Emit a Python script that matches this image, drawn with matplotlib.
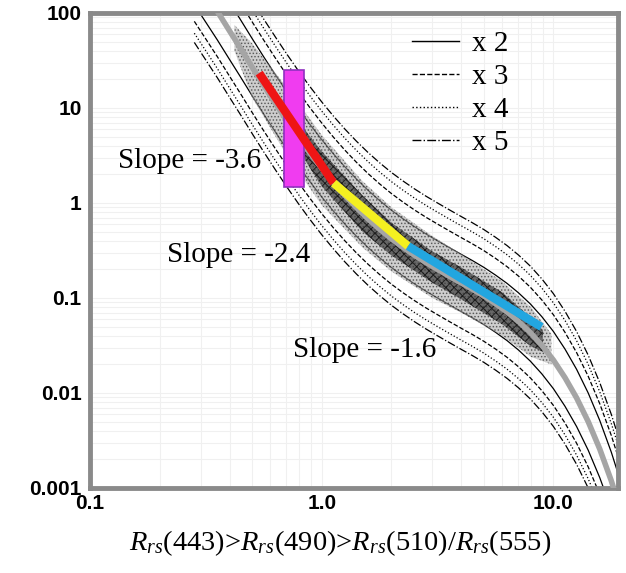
import matplotlib
matplotlib.use('Agg')
import matplotlib.pyplot as plt
from matplotlib.lines import Line2D
from matplotlib.ticker import FixedLocator, FixedFormatter, NullFormatter, LogLocator

plt.rcParams['mathtext.fontset'] = 'custom'
plt.rcParams['mathtext.rm'] = 'Liberation Serif'
plt.rcParams['mathtext.it'] = 'Liberation Serif:italic'
plt.rcParams['hatch.linewidth'] = 0.7

# band ratio vs chlorophyll model curve (grey)
curve_ratio = [0.224, 0.251, 0.282, 0.316, 0.355, 0.398, 0.447, 0.501, 0.562, 0.631,
               0.708, 0.794, 0.891, 1.0, 1.122, 1.259, 1.413, 1.585, 1.778, 1.995,
               2.239, 2.512, 2.818, 3.162, 3.548, 3.981, 4.467, 5.012, 5.623, 6.310,
               7.079, 7.943, 8.913, 10.0, 11.22, 12.59, 14.13, 15.85, 17.78, 19.95]
curve_chl = [529, 365, 245, 160, 103.5, 66.2, 42.2, 26.9, 17.27, 11.19,
             7.35, 4.91, 3.34, 2.32, 1.65, 1.20, 0.893, 0.680, 0.530, 0.421,
             0.342, 0.282, 0.236, 0.200, 0.170, 0.145, 0.124, 0.105, 0.0872, 0.0712,
             0.0565, 0.0434, 0.0318, 0.0222, 0.0145, 0.00888, 0.00500, 0.00257, 0.00119, 0.00049]

# envelope factors (legend)
factors = [2, 3, 4, 5]
factor_styles = ['-', '--', ':', '-.']
factor_labels = ['x 2', 'x 3', 'x 4', 'x 5']
env_start = 2  # envelopes begin at ratio 0.282

# scatter cloud extent (outer and dense core)
cloud_ratio = [0.42, 0.5, 0.7, 1.0, 1.5, 2.0, 3.0, 4.0, 6.0, 8.0, 9.8]
cloud_lo = [40, 13, 3.3, 0.95, 0.34, 0.19, 0.10, 0.07, 0.04, 0.024, 0.02]
cloud_hi = [75, 48, 17, 5.2, 1.7, 0.9, 0.45, 0.29, 0.15, 0.08, 0.042]
core_ratio = [0.75, 1.0, 1.5, 2.0, 3.0, 4.0, 6.0, 8.0, 9.0]
core_lo = [4.5, 1.5, 0.5, 0.28, 0.145, 0.097, 0.053, 0.031, 0.027]
core_hi = [8.5, 3.5, 1.2, 0.62, 0.31, 0.21, 0.115, 0.062, 0.046]

# fitted slope segments
seg_x = [[0.537, 1.126], [1.126, 2.36], [2.36, 8.88]]
seg_y = [[23.3, 1.62], [1.62, 0.352], [0.352, 0.0495]]
seg_colors = ['#ee1515', '#f4f020', '#22a6e0']
slope_text = ['Slope = -3.6', 'Slope = -2.4', 'Slope = -1.6']
slope_pos = [(118, 161), (167, 255), (293, 350)]  # figure pixels (left, centre y)

# magenta box
box_x = [0.685, 0.835]
box_y = [1.48, 25.4]

W, H = 626, 573
fig = plt.figure(figsize=(W / 100, H / 100), dpi=100)
ax = fig.add_axes([90 / W, 1 - 488 / H, 528 / W, 475 / H])
ax.set_xscale('log')
ax.set_yscale('log')
ax.set_xlim(0.1, 19)
ax.set_ylim(0.001, 100)

# faint background grid
ax.xaxis.set_minor_locator(LogLocator(base=10, subs=range(2, 10)))
ax.yaxis.set_minor_locator(LogLocator(base=10, subs=range(2, 10)))
ax.xaxis.set_minor_formatter(NullFormatter())
ax.yaxis.set_minor_formatter(NullFormatter())
ax.grid(True, which='both', color='#f0f0f0', lw=0.8, zorder=0)
ax.set_axisbelow(True)

# envelope lines
env_x = curve_ratio[env_start:]
for k, ls in zip(factors, factor_styles):
    ax.plot(env_x, [c * k for c in curve_chl[env_start:]], ls=ls, color='black', lw=0.9, zorder=2)
    ax.plot(env_x, [c / k for c in curve_chl[env_start:]], ls=ls, color='black', lw=0.9, zorder=2)

# data cloud
ax.fill_between(cloud_ratio, cloud_lo, cloud_hi, facecolor='#a8a8a8', edgecolor='#111111',
                hatch='.....', lw=0, alpha=0.55, zorder=3)
ax.fill_between(core_ratio, core_lo, core_hi, facecolor='#3c3c3c', edgecolor='black',
                hatch='xxxx', lw=0, alpha=0.7, zorder=3)

# model curve
ax.plot(curve_ratio, curve_chl, color='#a5a5a5', lw=4, zorder=4, solid_capstyle='butt')

ax.fill([box_x[0], box_x[1], box_x[1], box_x[0]], [box_y[0], box_y[0], box_y[1], box_y[1]],
        facecolor='#f03cf0', edgecolor='#9030c0', lw=1.2, zorder=5)

for xs, ys, c in zip(seg_x, seg_y, seg_colors):
    ax.plot(xs, ys, color=c, lw=6, zorder=6, solid_capstyle='butt')

for t, (px, py) in zip(slope_text, slope_pos):
    fig.text(px / W, 1 - py / H, t, family='Liberation Serif', fontsize=21,
             ha='left', va='center', zorder=10)

handles = [Line2D([], [], color='black', lw=1.0, ls=ls) for ls in factor_styles]
ax.legend(handles, factor_labels, loc='upper left', bbox_to_anchor=((412 - 90) / 528, (488 - 31) / 475),
          frameon=False, prop={'family': 'Liberation Serif', 'size': 21}, handlelength=1.6,
          handletextpad=0.45, labelspacing=0.22, borderpad=0, borderaxespad=0)

ax.xaxis.set_major_locator(FixedLocator([0.1, 1, 10]))
ax.xaxis.set_major_formatter(FixedFormatter(['0.1', '1.0', '10.0']))
ax.yaxis.set_major_locator(FixedLocator([0.001, 0.01, 0.1, 1, 10, 100]))
ax.yaxis.set_major_formatter(FixedFormatter(['0.001', '0.01', '0.1', '1', '10', '100']))
ax.tick_params(which='both', length=0)
ax.tick_params(axis='y', pad=6)
ax.tick_params(axis='x', pad=4)
for lab in ax.get_xticklabels() + ax.get_yticklabels():
    lab.set_family('Liberation Sans')
    lab.set_fontsize(15)
    lab.set_fontweight('bold')

for sp in ax.spines.values():
    sp.set_color('#8a8a8a')
    sp.set_linewidth(3.5)

fig.text(340 / W, 1 - 543 / H, r'$R_{rs}$(443)>$R_{rs}$(490)>$R_{rs}$(510)/$R_{rs}$(555)',
         family='Liberation Serif', fontsize=20.5, ha='center', va='center')

fig.savefig('out.png', dpi=100)
